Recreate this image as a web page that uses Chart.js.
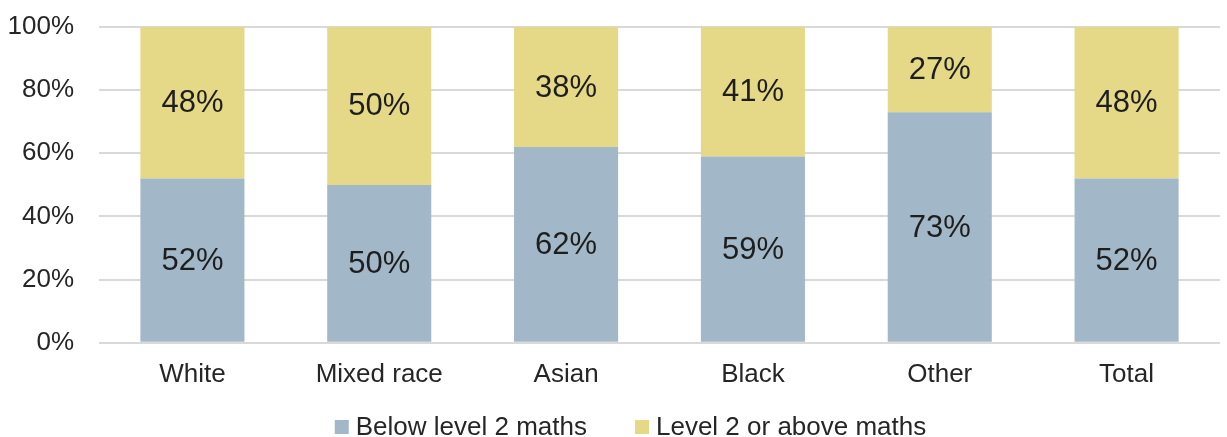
<!DOCTYPE html>
<html lang="en">
<head>
  <meta charset="UTF-8">
  <title>Maths level by ethnicity</title>
  <script src="https://cdn.jsdelivr.net/npm/chart.js"></script>
  <style>
    body { margin: 0; background: #fff; font-family: "Liberation Sans", Arial, sans-serif; }
    #wrap { width: 1227px; height: 437px; }
  </style>
</head>
<body>
  <div id="wrap"><canvas id="plot"></canvas></div>

  <script>
    const categories = ["White", "Mixed race", "Asian", "Black", "Other", "Total"];
    const belowLevel2 = [52, 50, 62, 59, 73, 52];
    const level2Above = [48, 50, 38, 41, 27, 48];
    const seriesNames = ["Below level 2 maths", "Level 2 or above maths"];
    const yTicks = [0, 20, 40, 60, 80, 100];

    const FONT = '"Liberation Sans", Arial, sans-serif';

    // labels in the middle of each segment + legend drawn at the bottom
    const extras = {
      id: "extras",
      afterDatasetsDraw(chart) {
        const ctx = chart.ctx;
        ctx.save();
        ctx.font = "31px " + FONT;
        ctx.fillStyle = "#1e1e1e";
        ctx.textAlign = "center";
        ctx.textBaseline = "middle";
        chart.data.datasets.forEach((ds, i) => {
          chart.getDatasetMeta(i).data.forEach((bar, j) => {
            ctx.fillText(ds.data[j] + "%", bar.x, (bar.y + bar.base) / 2 + 1);
          });
        });
        ctx.restore();
      },
      afterDraw(chart) {
        const ctx = chart.ctx;
        ctx.save();
        ctx.font = "26px " + FONT;
        ctx.textBaseline = "middle";
        ctx.textAlign = "left";
        const box = 14, gap = 7, itemGap = 48;
        const ws = chart.data.datasets.map(d => ctx.measureText(d.label).width);
        const total = ws.reduce((a, w) => a + box + gap + w, 0) + itemGap;
        let x = chart.width / 2 + 17 - total / 2;
        const y = 427;
        chart.data.datasets.forEach((d, i) => {
          ctx.fillStyle = d.backgroundColor;
          ctx.fillRect(x, y - box / 2, box, box);
          ctx.fillStyle = "#262626";
          ctx.fillText(d.label, x + box + gap, y + 1);
          x += box + gap + ws[i] + itemGap;
        });
        ctx.restore();
      }
    };

    new Chart(document.getElementById("plot"), {
      type: "bar",
      data: {
        labels: categories,
        datasets: [
          { label: seriesNames[0], data: belowLevel2, backgroundColor: "#A2B8C8" },
          { label: seriesNames[1], data: level2Above, backgroundColor: "#E5D987" }
        ]
      },
      options: {
        responsive: true,
        maintainAspectRatio: false,
        animation: false,
        categoryPercentage: 1,
        barPercentage: 0.557,
        layout: { padding: { top: 27, right: 7, bottom: 31, left: 0 } },
        plugins: { legend: { display: false }, tooltip: { enabled: false } },
        scales: {
          x: {
            stacked: true,
            grid: { display: false, drawTicks: false },
            border: { display: false },
            ticks: { color: "#262626", font: { family: FONT, size: 26 }, padding: 16 }
          },
          y: {
            stacked: true,
            min: 0,
            max: 100,
            afterBuildTicks(axis) { axis.ticks = yTicks.map(v => ({ value: v })); },
            afterFit(axis) { axis.width = 99; axis.paddingTop = 0; axis.paddingBottom = 0; },
            grid: { color: "#d9d9d9", lineWidth: 2, drawTicks: false },
            border: { display: false },
            ticks: { color: "#262626", font: { family: FONT, size: 26 }, padding: 25,
                     callback: v => v + "%" }
          }
        }
      },
      plugins: [extras]
    });
  </script>
</body>
</html>
